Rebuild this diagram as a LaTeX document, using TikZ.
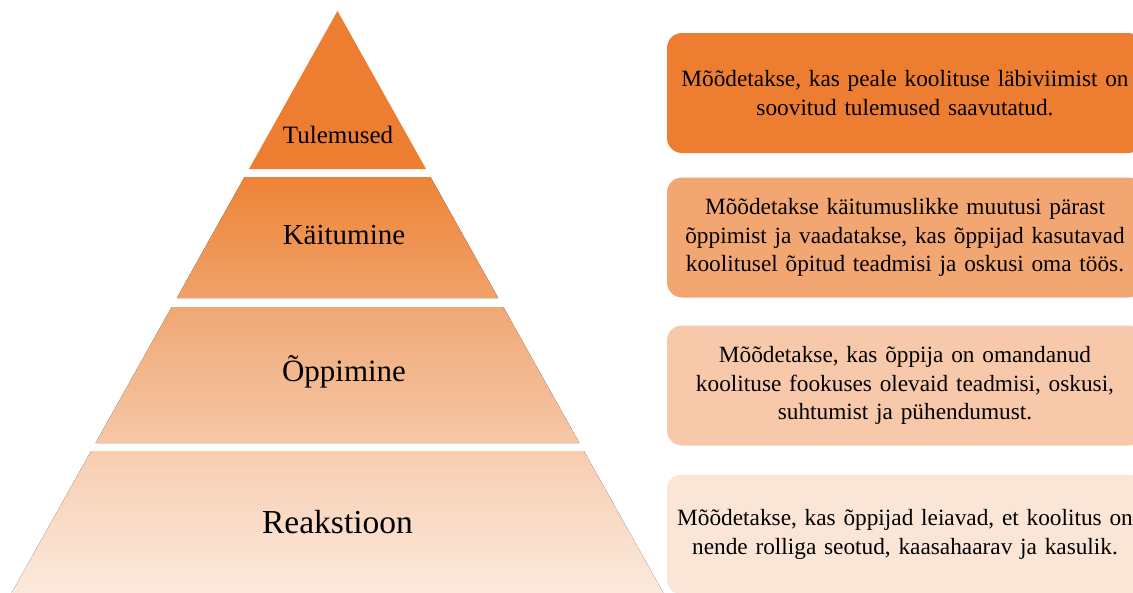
\documentclass[tikz,border=0pt]{standalone}
\usepackage{fontspec}
\setmainfont{Liberation Serif}
\usetikzlibrary{positioning}
\definecolor{orangea}{HTML}{ED7D31}
\definecolor{orangeb}{HTML}{EE8337}
\definecolor{orangec}{HTML}{F0A269}
\definecolor{oranged}{HTML}{F0A875}
\definecolor{orangee}{HTML}{F6C7A6}
\definecolor{orangef}{HTML}{F7CDB0}
\definecolor{orangeg}{HTML}{FCEBDF}
\definecolor{boxb}{HTML}{F2A672}
\definecolor{boxc}{HTML}{F7C9AA}
\definecolor{boxd}{HTML}{FBE5D7}

\begin{document}
\begin{tikzpicture}[
    x=1pt, y=-1pt,
    level/.style={anchor=base, inner sep=0, text=black},
    info/.style={rounded corners=15pt, minimum width=476pt, minimum height=120pt,
      text width=460pt, align=center, inner sep=0,
      font=\fontsize{23.3}{28.5}\selectfont},
    top/.style={fill=orangea},
    second/.style={top color=orangeb, bottom color=orangec},
    third/.style={top color=oranged, bottom color=orangee},
    base/.style={top color=orangef, bottom color=orangeg}
  ]
  \path[clip, use as bounding box] (0,0) rectangle (1133,592);

  % pyramid
  \fill[top] (337.5,11) -- (426,169) -- (249,169) -- cycle;
  \fill[second] (244.5,177) -- (430.5,177) -- (498.2,298) -- (176.8,298) -- cycle;
  \fill[third] (171.7,307) -- (503.3,307) -- (579.4,443) -- (95.6,443) -- cycle;
  \fill[base] (91.1,451) -- (583.9,451) -- (667.3,600) -- (7.7,600) -- cycle;

  \node[level, font=\fontsize{25}{30}\selectfont] (tul) at (338,143) {Tulemused};
  \node[level, font=\fontsize{29}{34}\selectfont] (kai) at (344,244) {Käitumine};
  \node[level, font=\fontsize{31}{36}\selectfont] (opp) at (344,381) {Õppimine};
  \node[level, font=\fontsize{33.5}{38}\selectfont] (rea) at (337.5,533) {Reakstioon};

  % descriptions
  \node[info, fill=orangea] (tuldesc) at (905,93)
    {Mõõdetakse, kas peale koolituse läbiviimist on\\soovitud tulemused saavutatud.};
  \node[info, fill=boxb] (kaidesc) at (905,237.5)
    {Mõõdetakse käitumuslikke muutusi pärast\\õppimist ja vaadatakse, kas õppijad kasutavad\\koolitusel õpitud teadmisi ja oskusi oma töös.};
  \node[info, fill=boxc] (oppdesc) at (905,385.5)
    {Mõõdetakse, kas õppija on omandanud\\koolituse fookuses olevaid teadmisi, oskusi,\\suhtumist ja pühendumust.};
  \node[info, fill=boxd] (readesc) at (905,534.5)
    {Mõõdetakse, kas õppijad leiavad, et koolitus on\\nende rolliga seotud, kaasahaarav ja kasulik.};
\end{tikzpicture}
\end{document}
